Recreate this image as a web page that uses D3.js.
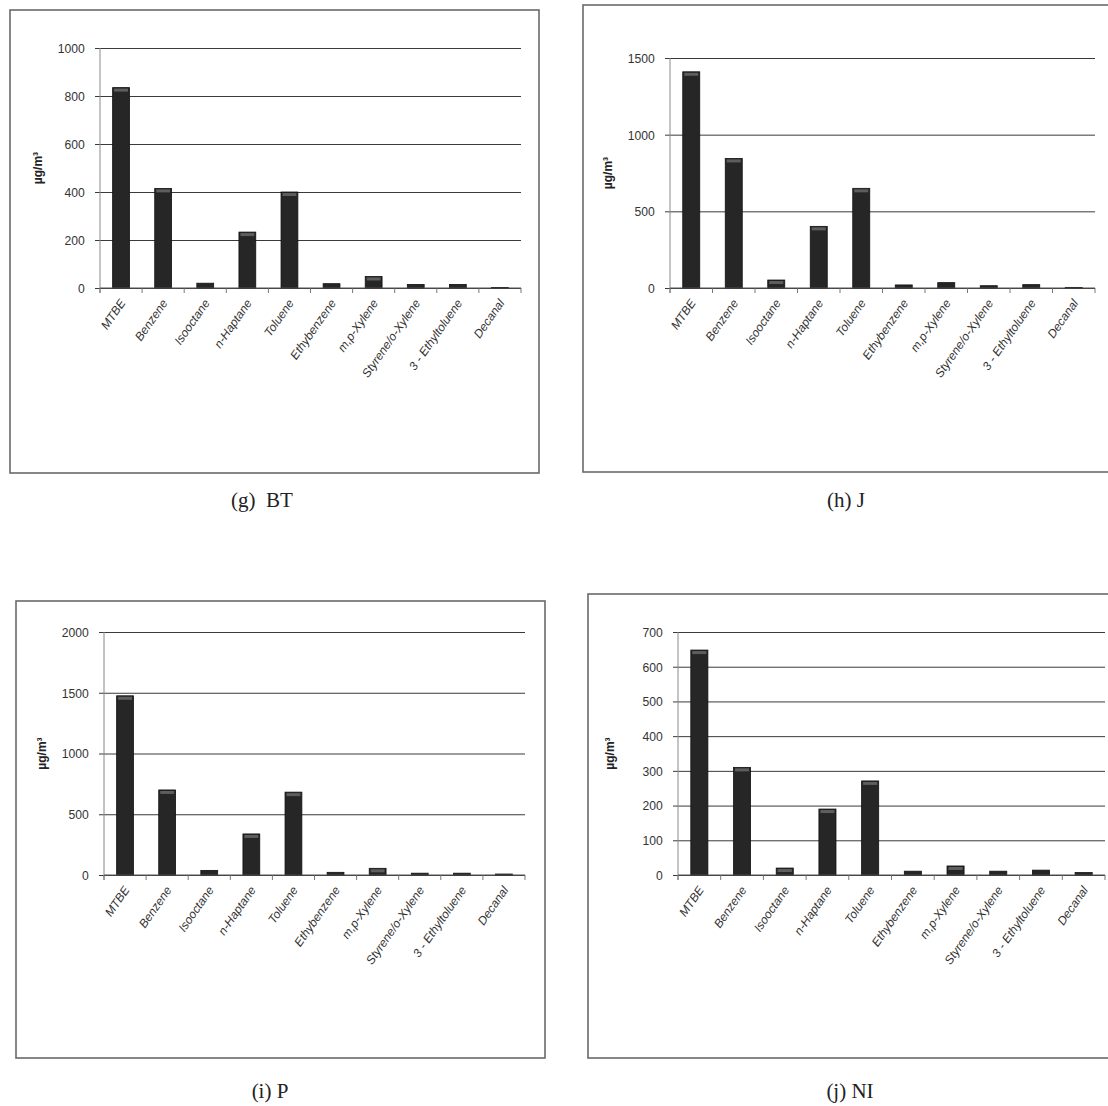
<!DOCTYPE html>
<html><head><meta charset="utf-8">
<script src="https://cdn.jsdelivr.net/npm/d3@7"></script>
<style>body{margin:0;background:#fff;}svg{display:block;}</style>
</head><body>
<script>
const categories = ["MTBE","Benzene","Isooctane","n-Haptane","Toluene","Ethybenzene","m,p-Xylene","Styrene/o-Xylene","3 - Ethyltoluene","Decanal"];
const valuesBT = [835, 415, 20, 233, 400, 18, 48, 15, 15, 2];
const valuesJ  = [1410, 845, 52, 402, 650, 20, 35, 15, 22, 4];
const valuesP  = [1475, 700, 38, 338, 682, 22, 55, 15, 15, 8];
const valuesNI = [648, 310, 20, 190, 271, 11, 26, 11, 14, 7];
const ticksBT = [0, 200, 400, 600, 800, 1000];
const ticksJ  = [0, 500, 1000, 1500];
const ticksP  = [0, 500, 1000, 1500, 2000];
const ticksNI = [0, 100, 200, 300, 400, 500, 600, 700];
const captions = ["(g)  BT", "(h) J", "(i) P", "(j) NI"];
const yTitle = "µg/m³";

const W = 1108, H = 1106;
const svg = d3.select("body").append("svg").attr("width", W).attr("height", H);

const panels = [
  {vals: valuesBT, ticks: ticksBT, cap: captions[0], frame:[10,10,529,463], x0:100, x1:521, yb:288, yt:48, capX:262, capY:507, titleX:42},
  {vals: valuesJ,  ticks: ticksJ,  cap: captions[1], frame:[583,5,560,467], x0:670, x1:1095, yb:288, yt:58, capX:846, capY:507, titleX:612},
  {vals: valuesP,  ticks: ticksP,  cap: captions[2], frame:[16,601,529,457], x0:104, x1:525, yb:875, yt:632, capX:270, capY:1098, titleX:46},
  {vals: valuesNI, ticks: ticksNI, cap: captions[3], frame:[588,594,560,464], x0:678, x1:1105, yb:875, yt:632, capX:850, capY:1098, titleX:614}
];

panels.forEach(p => {
  const g = svg.append("g");
  g.append("rect").attr("x", p.frame[0]).attr("y", p.frame[1]).attr("width", p.frame[2]).attr("height", p.frame[3])
    .attr("fill", "none").attr("stroke", "#6a6a6a").attr("stroke-width", 1.6);

  const x = d3.scaleBand().domain(categories).range([p.x0, p.x1]).paddingInner(0.6).paddingOuter(0.3);
  const y = d3.scaleLinear().domain([0, d3.max(p.ticks)]).range([p.yb, p.yt]);

  const yAxis = d3.axisLeft(y).tickValues(p.ticks).tickSize(-(p.x1 - p.x0)).tickPadding(17).tickFormat(d3.format("d"));
  const ya = g.append("g").attr("transform", `translate(${p.x0},0)`).call(yAxis);
  ya.select(".domain").remove();
  ya.selectAll(".tick line").attr("stroke", "#3a3a3a").attr("stroke-width", 1).attr("x1", -5);
  ya.selectAll(".tick text").attr("font-family", "Liberation Sans, Arial, sans-serif").attr("font-size", 13.5)
    .attr("fill", "#333").attr("transform", "scale(0.9,1)");

  g.append("line").attr("x1", p.x0).attr("x2", p.x0).attr("y1", y(d3.max(p.ticks))).attr("y2", p.yb + 5)
    .attr("stroke", "#888").attr("stroke-width", 1);

  const bounds = categories.map(c => x(c) - x.step() * x.paddingOuter()).concat([p.x1]);
  g.selectAll(".xt").data(bounds).join("line").attr("x1", d => d).attr("x2", d => d)
    .attr("y1", p.yb).attr("y2", p.yb + 5).attr("stroke", "#777").attr("stroke-width", 1);

  const data = categories.map((c, i) => ({c, v: p.vals[i]}));
  g.selectAll(".bar").data(data).join("rect")
    .attr("x", d => x(d.c)).attr("width", x.bandwidth())
    .attr("y", d => y(d.v)).attr("height", d => p.yb - y(d.v))
    .attr("fill", "#262626").attr("stroke", "#111").attr("stroke-width", 0.8);
  g.selectAll(".hl").data(data.filter(d => p.yb - y(d.v) > 6)).join("rect")
    .attr("x", d => x(d.c) + 1.5).attr("width", x.bandwidth() - 3)
    .attr("y", d => y(d.v) + 1).attr("height", 3)
    .attr("fill", "#5e5e5e");

  g.append("line").attr("x1", p.x0).attr("x2", p.x1).attr("y1", p.yb).attr("y2", p.yb)
    .attr("stroke", "#555").attr("stroke-width", 1.2);

  g.selectAll(".cl").data(categories).join("text")
    .attr("transform", d => `translate(${x(d) + x.bandwidth() / 2 + 5},${p.yb + 15}) rotate(-55)`)
    .attr("text-anchor", "end")
    .attr("font-family", "Liberation Sans, Arial, sans-serif").attr("font-style", "italic")
    .attr("font-size", 12).attr("fill", "#333")
    .text(d => d);

  g.append("text").attr("transform", `translate(${p.titleX},${(p.yb + p.yt) / 2}) rotate(-90)`)
    .attr("text-anchor", "middle").attr("font-family", "Liberation Sans, Arial, sans-serif")
    .attr("font-weight", "bold").attr("font-size", 12).attr("fill", "#222").text(yTitle);

  svg.append("text").attr("x", p.capX).attr("y", p.capY).attr("text-anchor", "middle")
    .attr("font-family", "Liberation Serif, Times New Roman, serif").attr("font-size", 21).attr("fill", "#222")
    .attr("xml:space", "preserve").style("white-space", "pre")
    .text(p.cap);
});
</script>
</body></html>
